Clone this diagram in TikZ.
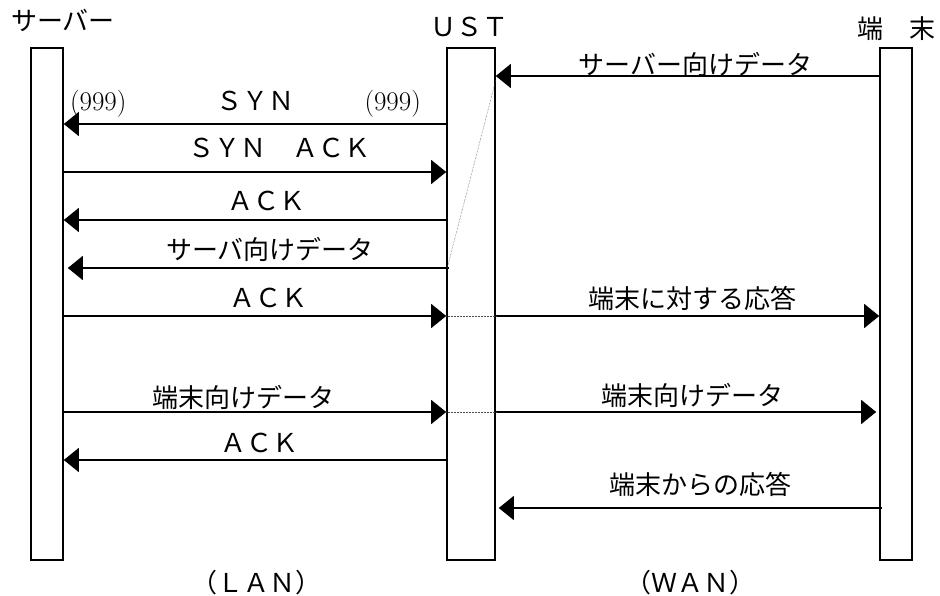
\documentclass[tikz,border=0pt]{standalone}
\usepackage{fontspec}
\newfontfamily\jpfont{Noto Sans CJK JP}
\usetikzlibrary{arrows.meta,positioning}

\tikzset{
    bar/.style={draw, line width=1.6pt, minimum width=32pt, minimum height=512pt, inner sep=0pt},
    msg/.style={line width=1.4pt, -{Triangle[length=15pt,width=24pt]}},
    lbl/.style={font=\jpfont\fontsize{26}{30}\selectfont, inner sep=0pt},
    num/.style={font=\fontsize{27}{30}\selectfont, inner sep=0pt},
    relay/.style={line width=0.5pt, densely dotted, black!70}
}

\begin{document}
\begin{tikzpicture}[x=1pt, y=-1pt]
    \useasboundingbox (0,0) rectangle (940,596);

    % Lifelines
    \node[bar] (srv) at (47,304) {};
    \node[bar, minimum width=48pt] (ust) at (471,304) {};
    \node[bar] (term) at (896,304) {};

    % Names above and networks below
    \node[lbl, above=15pt of srv.north, xshift=16pt] (srvname) {サーバー};
    \node[lbl, above=10pt of ust.north, xshift=-2pt] (ustname) {ＵＳＴ};
    \node[lbl, above=6pt of term.north] (termname) {端　末};
    \node[lbl] (lan) at (256,583) {（ＬＡＮ）};
    \node[lbl] (wan) at (690,583) {（ＷＡＮ）};

    % LAN side: server <-> UST
    \draw[msg] (ust.west |- 0,124) -- (srv.east |- 0,124)
        node[lbl, pos=0.5, above=12pt] {ＳＹＮ}
        node[num, pos=0.91, above=6pt] {(999)}
        node[num, pos=0.14, above=6pt] {(999)};
    \draw[msg] (srv.east |- 0,172) -- (ust.west |- 0,172)
        node[lbl, pos=0.565, above=13pt] {ＳＹＮ　ＡＣＫ};
    \draw[msg] (ust.west |- 0,220) -- (srv.east |- 0,220)
        node[lbl, pos=0.471, above=8pt] {ＡＣＫ};
    \draw[msg] ([xshift=3pt]ust.west |- 0,268) -- ([xshift=4pt]srv.east |- 0,268)
        node[lbl, pos=0.47, above=6pt] {サーバ向けデータ};
    \draw[msg] (srv.east |- 0,316) -- (ust.west |- 0,316)
        node[lbl, pos=0.534, above=7pt] {ＡＣＫ};
    \draw[msg] (srv.east |- 0,412) -- (ust.west |- 0,412)
        node[lbl, pos=0.471, above=2pt] {端末向けデータ};
    \draw[msg] (ust.west |- 0,460) -- (srv.east |- 0,460)
        node[lbl, pos=0.487, above=6pt] {ＡＣＫ};

    % WAN side: UST <-> terminal
    \draw[msg] (term.west |- 0,76) -- (ust.east |- 0,76)
        node[lbl, pos=0.48, above=-1pt] {サーバー向けデータ};
    \draw[msg] (ust.east |- 0,316) -- (term.west |- 0,316)
        node[lbl, pos=0.514, above=5pt] {端末に対する応答};
    \draw[msg] (ust.east |- 0,412) -- ([xshift=-3pt]term.west |- 0,412)
        node[lbl, pos=0.516, above=4pt] {端末向けデータ};
    \draw[msg] ([xshift=3pt]term.west |- 0,508) -- ([xshift=3pt]ust.east |- 0,508)
        node[lbl, pos=0.475, above=11pt] {端末からの応答};

    % Relay inside the UST
    \draw[relay] (ust.east |- 0,80) -- ([xshift=1pt]ust.west |- 0,268);
    \draw[relay] (ust.west |- 0,316) -- (ust.east |- 0,316);
    \draw[relay] (ust.west |- 0,412) -- (ust.east |- 0,412);

\end{tikzpicture}
\end{document}
